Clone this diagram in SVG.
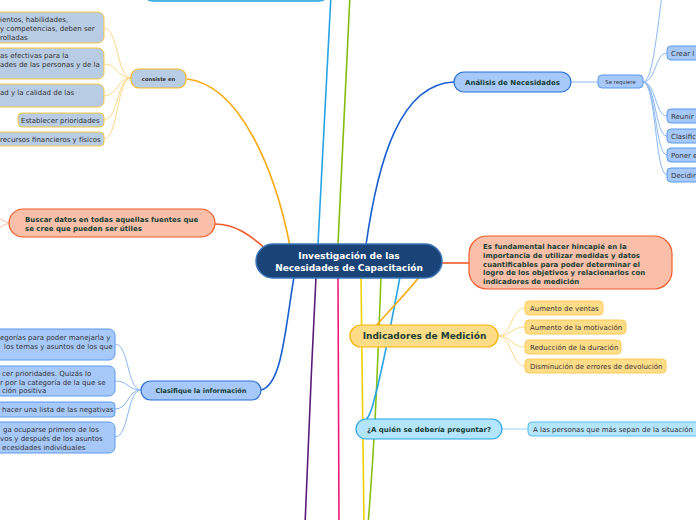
<svg xmlns="http://www.w3.org/2000/svg" width="696" height="520" viewBox="0 0 696 520">
<style>
text{font-family:"DejaVu Sans",Verdana,sans-serif}
.t{font-size:7px;fill:#333}
.b{font-weight:bold;fill:#173f33}
.gold{fill:#b8cce4;stroke:#f6c945;stroke-width:1}
.lb{fill:#a6c9f9;stroke:#5b9af0;stroke-width:1}
.yl{fill:#ffdd88;stroke:#fcca55;stroke-width:1}
.sky{fill:#b3e5fc;stroke:#55bdf0;stroke-width:1}
.c{fill:none}
</style>
<g id="connectors" class="c">
<path d="M143,0" />
<path d="M318,244 C322,160 327,80 331,-5" stroke="#27a4e6" stroke-width="1.6"/>
<path d="M338,244 C342,160 346,80 350,-5" stroke="#84bd10" stroke-width="1.6"/>
<path d="M187,79 C240,85 275,170 290,246" stroke="#f6aa10" stroke-width="1.6"/>
<path d="M215,224 C235,224 250,235 266,249" stroke="#f05a28" stroke-width="1.6"/>
<path d="M442,263 L469,263" stroke="#f05a28" stroke-width="1.6"/>
<path d="M366,245 C378,160 400,84 454,82" stroke="#1a5fd0" stroke-width="1.6"/>
<path d="M294,277 C285,330 282,385 261,390" stroke="#1a5fd0" stroke-width="1.6"/>
<path d="M316,277 C312,360 308,440 305,525" stroke="#5a1c78" stroke-width="1.6"/>
<path d="M338,277 L339,525" stroke="#f0187a" stroke-width="1.6"/>
<path d="M361,277 C362,360 363,440 364,525" stroke="#f0d000" stroke-width="1.6"/>
<path d="M381,277 C377,380 375,440 368,525" stroke="#88c010" stroke-width="1.6"/>
<path d="M400,277 C390,330 380,380 374,400 C372,410 369,416 366,420" stroke="#27a4e6" stroke-width="1.6"/>
<path d="M420,276 C405,295 385,315 376,326" stroke="#f6aa10" stroke-width="1.6"/>
<path d="M9,223 L0,219 M9,223 L0,227" stroke="#f9bfa9" stroke-width="1"/>
<g stroke="#ffd98a" stroke-width="1">
<path d="M131,78 C117,78 118,28 104,28"/>
<path d="M131,78 C117,78 118,64 104,64"/>
<path d="M131,78 C117,78 118,96 104,96"/>
<path d="M131,78 C117,78 118,120 104,120"/>
<path d="M131,78 C117,78 118,139 104,139"/>
</g>
<g stroke="#8ab8f2" stroke-width="1">
<path d="M141,390 C127,390 129,344 115,344"/>
<path d="M141,390 C127,390 129,381 115,381"/>
<path d="M141,390 C127,390 129,409 115,409"/>
<path d="M141,390 C127,390 129,437 115,437"/>
<path d="M571,82 L598,82"/>
<path d="M643,82 C652,82 656,40 662,-5"/>
<path d="M643,82 C656,82 655,53 667,53"/>
<path d="M643,82 C656,82 655,116 667,116"/>
<path d="M643,82 C656,82 655,136 667,136"/>
<path d="M643,82 C656,82 655,155 667,155"/>
<path d="M643,82 C656,82 655,175 667,175"/>
</g>
<g stroke="#ffd98a" stroke-width="1">
<path d="M498,336 C512,336 511,308 525,308"/>
<path d="M498,336 C512,336 511,327 525,327"/>
<path d="M498,336 C512,336 511,347 525,347"/>
<path d="M498,336 C512,336 511,366 525,366"/>
</g>
<path d="M502,429 L528,429" stroke="#8fd3f5" stroke-width="1"/>
</g>
<g id="top-node"><rect x="143" y="-30" width="186" height="31" rx="10" fill="#b3e5fc" stroke="#27a4e6" stroke-width="1.6"/></g>
<g id="center"><rect x="256" y="244" width="186" height="34" rx="17" fill="#1a4478" stroke="#3a74b6" stroke-width="1.5"/>
<text x="349" y="259" text-anchor="middle" font-size="9" font-weight="bold" fill="#fff">Investigación de las</text>
<text x="349" y="271" text-anchor="middle" font-size="9" font-weight="bold" fill="#fff">Necesidades de Capacitación</text></g>
<g id="consiste"><rect x="131" y="69" width="55" height="19" rx="8" fill="#b8cce4" stroke="#f6b820" stroke-width="1.2"/>
<text x="158.5" y="80.5" text-anchor="middle" font-size="5.2" font-weight="bold" fill="#333">consiste en</text></g>
<g id="c1"><rect class="gold" x="-20" y="12" width="124" height="31" rx="6"/>
<text class="t" x="0" y="21.5">ientos, habilidades,</text><text class="t" x="0" y="30.5">y competencias, deben ser</text><text class="t" x="0" y="39.5">rolladas</text></g>
<g id="c2"><rect class="gold" x="-20" y="48" width="124" height="31" rx="6"/>
<text class="t" x="0" y="57.5">as efectivas para la</text><text class="t" x="0" y="66.5">ades de las personas y de la</text></g>
<g id="c3"><rect class="gold" x="-20" y="84" width="124" height="23" rx="6"/>
<text class="t" x="0" y="95">ad y la calidad de las</text></g>
<g id="c4"><rect class="gold" x="18" y="113" width="86" height="14" rx="4"/>
<text class="t" x="21" y="122.5">Establecer prioridades</text></g>
<g id="c5"><rect class="gold" x="-20" y="132" width="124" height="14" rx="4"/>
<text class="t" x="0" y="141.5">recursos financieros y físicos</text></g>
<g id="buscar"><rect x="9" y="209" width="206" height="28" rx="14" fill="#f9bfa9" stroke="#f05a28" stroke-width="1.2"/>
<text class="b" x="25" y="221.5" font-size="7">Buscar datos en todas aquellas fuentes que</text>
<text class="b" x="25" y="231" font-size="7">se cree que pueden ser útiles</text></g>
<g id="clasifique"><rect x="141" y="381" width="120" height="19" rx="9.5" fill="#a6c9f9" stroke="#2a6fd6" stroke-width="1.2"/>
<text class="b" x="201" y="393" text-anchor="middle" font-size="6.5">Clasifique la información</text></g>
<g id="k1"><rect class="lb" x="-20" y="329" width="135" height="31" rx="6"/>
<text class="t" x="0" y="339.5">egorías para poder manejarla y</text><text class="t" x="4" y="348.5">los temas y asuntos de los que</text></g>
<g id="k2"><rect class="lb" x="-20" y="366" width="135" height="30" rx="6"/>
<text class="t" x="2" y="375.5">cer prioridades. Quizás lo</text><text class="t" x="0" y="384.5">r por la categoría de la que se</text><text class="t" x="2" y="393">ción positiva</text></g>
<g id="k3"><rect class="lb" x="-20" y="402" width="135" height="15" rx="4"/>
<text class="t" x="2" y="412">hacer una lista de las negativas</text></g>
<g id="k4"><rect class="lb" x="-20" y="422" width="135" height="31" rx="6"/>
<text class="t" x="3" y="431.5">ga ocuparse primero de los</text><text class="t" x="0" y="440.5">vos y después de los asuntos</text><text class="t" x="2" y="449.5">ecesidades individuales</text></g>
<g id="analisis"><rect x="454" y="72" width="117" height="20" rx="10" fill="#a6c9f9" stroke="#2a6fd6" stroke-width="1.2"/>
<text class="b" x="512.5" y="84.5" text-anchor="middle" font-size="7">Análisis de Necesidades</text></g>
<g id="serequiere"><rect class="lb" x="598" y="75" width="45" height="13" rx="4"/>
<text x="620.5" y="83.5" text-anchor="middle" font-size="5.3" fill="#333">Se requiere</text></g>
<g id="r1"><rect class="lb" x="667" y="46" width="60" height="14" rx="4"/><text class="t" x="671" y="55.5">Crear l</text></g>
<g id="r2"><rect class="lb" x="667" y="109" width="60" height="14" rx="4"/><text class="t" x="671" y="118.5">Reunir</text></g>
<g id="r3"><rect class="lb" x="667" y="129" width="60" height="14" rx="4"/><text class="t" x="671" y="138.5">Clasific</text></g>
<g id="r4"><rect class="lb" x="667" y="148" width="60" height="14" rx="4"/><text class="t" x="671" y="157.5">Poner e</text></g>
<g id="r5"><rect class="lb" x="667" y="168" width="60" height="14" rx="4"/><text class="t" x="671" y="177.5">Decidir</text></g>
<g id="fundamental"><rect x="469" y="236" width="203" height="53" rx="18" fill="#f9bfa9" stroke="#f05a28" stroke-width="1.2"/>
<text class="b" font-size="7" x="483" y="248.5">Es fundamental hacer hincapié en la</text>
<text class="b" font-size="7" x="483" y="257.5">importancia de utilizar medidas y datos</text>
<text class="b" font-size="7" x="483" y="266.5">cuantificables para poder determinar el</text>
<text class="b" font-size="7" x="483" y="274.5">logro de los objetivos y relacionarlos con</text>
<text class="b" font-size="7" x="483" y="283.5">indicadores de medición</text></g>
<g id="indicadores"><rect x="350" y="325" width="148" height="22" rx="11" fill="#ffdd88" stroke="#f6b400" stroke-width="1.2"/>
<text class="b" x="424.5" y="339.2" text-anchor="middle" font-size="9">Indicadores de Medición</text></g>
<g id="i1"><rect class="yl" x="525" y="301" width="78" height="14" rx="4"/><text class="t" x="530" y="310.5">Aumento de ventas</text></g>
<g id="i2"><rect class="yl" x="525" y="320" width="101" height="14" rx="4"/><text class="t" x="530" y="329.5">Aumento de la motivación</text></g>
<g id="i3"><rect class="yl" x="525" y="340" width="96" height="14" rx="4"/><text class="t" x="530" y="349.5">Reducción de la duración</text></g>
<g id="i4"><rect class="yl" x="525" y="359" width="141" height="14" rx="4"/><text class="t" x="530" y="368.5">Disminución de errores de devolución</text></g>
<g id="quien"><rect x="356" y="419" width="146" height="20" rx="10" fill="#b3e5fc" stroke="#27a4e6" stroke-width="1.2"/>
<text class="b" x="429" y="431.5" text-anchor="middle" font-size="7">¿A quién se debería preguntar?</text></g>
<g id="q1"><rect class="sky" x="528" y="422" width="180" height="14" rx="4"/><text class="t" x="533" y="431.5">A las personas que más sepan de la situación</text></g>
</svg>
